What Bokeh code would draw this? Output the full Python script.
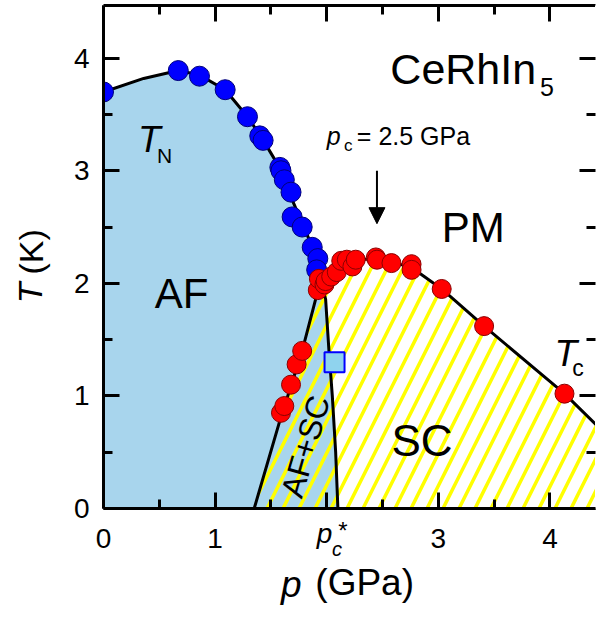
import math
from bokeh.plotting import figure
from bokeh.models import Range1d, LinearAxis, Label, Arrow, NormalHead, FixedTicker
from bokeh.embed import file_html
from bokeh.resources import INLINE

FONT = "Liberation Sans"

# ---- data ----
# Neel temperature T_N (blue circles)
tn_p = [0.00, 0.67, 0.86, 1.09, 1.29, 1.40, 1.43, 1.58, 1.59, 1.62, 1.68, 1.69, 1.78, 1.87, 1.92, 1.91]
tn_T = [3.70, 3.89, 3.84, 3.72, 3.48, 3.31, 3.27, 3.03, 3.00, 2.92, 2.81, 2.59, 2.50, 2.32, 2.22, 2.12]
# superconducting T_c (red circles)
tc_p = [1.59, 1.62, 1.68, 1.73, 1.78, 1.92, 1.93, 1.98, 1.99, 2.04, 2.09, 2.13, 2.18, 2.23, 2.26,
        2.44, 2.45, 2.58, 2.76, 2.76, 3.03, 3.41, 4.13]
tc_T = [0.85, 0.91, 1.10, 1.28, 1.40, 1.94, 2.04, 1.99, 2.02, 2.06, 2.10, 2.20, 2.21, 2.15, 2.21,
        2.23, 2.21, 2.18, 2.17, 2.12, 1.95, 1.62, 1.02]
# p_c* marker (square)
sq_p = [2.07]
sq_T = [1.30]

# phase boundary lines
tn_line_p = [0.00, 0.36, 0.67, 0.86, 1.09, 1.29, 1.42, 1.60, 1.70, 1.80, 1.88, 1.93, 1.95]
tn_line_T = [3.70, 3.82, 3.89, 3.85, 3.72, 3.48, 3.29, 2.99, 2.72, 2.49, 2.30, 2.12, 2.00]
af_sc_p = [1.35, 1.58, 1.78, 1.93]
af_sc_T = [0.00, 0.78, 1.40, 1.97]
pstar_line_p = [1.95, 1.99, 2.02, 2.05, 2.08, 2.10]
pstar_line_T = [2.00, 1.86, 1.40, 1.00, 0.50, 0.00]
tc_line_p = [1.93, 1.99, 2.04, 2.10, 2.20, 2.30, 2.42, 2.55, 2.76, 3.03, 3.41, 4.13, 4.49]
tc_line_T = [1.97, 2.03, 2.07, 2.12, 2.18, 2.21, 2.22, 2.20, 2.14, 1.95, 1.62, 1.02, 0.67]

x_ticks = [0, 1, 2, 3, 4]
x_minor = [0.5, 1.5, 2.5, 3.5, 4.5]
y_ticks = [0, 1, 2, 3, 4]
y_minor = [0.5, 1.5, 2.5, 3.5, 4.5]
pstar_tick = 2

X_END = 4.408
Y_END = 4.468

p = figure(width=599, height=610, x_range=Range1d(0, X_END), y_range=Range1d(0, Y_END),
           output_backend="svg", toolbar_location=None,
           min_border_left=103, min_border_right=0, min_border_top=0, min_border_bottom=102,
           x_axis_location=None, y_axis_location=None)
p.xgrid.visible = False
p.ygrid.visible = False
p.outline_line_color = None
p.background_fill_color = "white"
p.border_fill_color = "white"

def style_axis(ax):
    ax.axis_line_width = 3
    ax.axis_line_color = "black"
    ax.major_tick_in = 16
    ax.major_tick_out = 0
    ax.minor_tick_in = 9
    ax.minor_tick_out = 0
    ax.major_tick_line_width = 3
    ax.minor_tick_line_width = 3
    ax.major_label_text_font = FONT
    ax.major_label_text_color = "black"
    ax.major_label_text_font_size = "28px"
    ax.major_label_standoff = 14

# main axes
xb = LinearAxis(ticker=FixedTicker(ticks=x_ticks, minor_ticks=x_minor),
                major_label_overrides={pstar_tick: " "})
style_axis(xb)
p.add_layout(xb, "below")
yl = LinearAxis(ticker=FixedTicker(ticks=y_ticks, minor_ticks=y_minor))
style_axis(yl)
p.add_layout(yl, "left")

# mirror axes on top and right: inward ticks, blank labels
def mirror_axis(where, majors, minors, line_color):
    ax = LinearAxis(ticker=FixedTicker(ticks=majors, minor_ticks=minors),
                    major_label_overrides={v: " " for v in majors})
    style_axis(ax)
    ax.major_label_text_font_size = "1px"
    ax.major_label_standoff = 1
    ax.axis_line_color = line_color
    if line_color != "black":
        ax.axis_line_width = 1
    p.add_layout(ax, where)

mirror_axis("above", x_ticks, x_minor, "black")
mirror_axis("right", y_ticks, y_minor, "white")

# label-only axes: one tick each, carrying a styled piece of text
def text_axis(where, pos, text, size, style, standoff, vertical=False):
    ax = LinearAxis(ticker=FixedTicker(ticks=[pos]), major_label_overrides={pos: text},
                    major_label_text_font=FONT, major_label_text_font_size=f"{size}px",
                    major_label_text_font_style=style, major_label_text_color="black",
                    major_label_standoff=standoff,
                    axis_line_color=None, major_tick_line_color=None, minor_tick_line_color=None,
                    major_tick_in=0, major_tick_out=0, minor_tick_in=0, minor_tick_out=0)
    if vertical:
        ax.major_label_orientation = "vertical"
    p.add_layout(ax, where)

# p_c* tick label and x title "p (GPa)"
text_axis("below", 1.98, "p", 28, "italic", -39)
text_axis("below", 2.146, "*", 24, "normal", -40)
text_axis("below", 1.683, "p", 37, "italic", 7)
text_axis("below", 2.34, "(GPa)", 37, "normal", -46)
text_axis("below", 2.093, "c", 20, "italic", -70)
# y title "T (K)"
text_axis("left", 1.916, "T", 34, "italic", 21, vertical=True)
text_axis("left", 2.279, "(K)", 34, "normal", -42, vertical=True)

# regions
blue_x = [0] + tn_line_p + pstar_line_p
blue_y = [0] + tn_line_T + pstar_line_T
p.patch(blue_x, blue_y, fill_color="#a8d5ed", line_color=None)

sc_x = af_sc_p + tc_line_p + [tc_line_p[-1]]
sc_y = af_sc_T + tc_line_T + [0]
p.patch(sc_x, sc_y, fill_color=None, line_color=None,
        hatch_pattern="/", hatch_color="#ffff00", hatch_weight=3.5, hatch_scale=32)

for xs, ys in [(tn_line_p, tn_line_T), (af_sc_p, af_sc_T), (pstar_line_p, pstar_line_T), (tc_line_p, tc_line_T)]:
    p.line(xs, ys, line_color="black", line_width=3)

p.scatter(tn_p, tn_T, size=20, fill_color="#0000ff", line_color="#00007a", line_width=1)
p.scatter(tc_p, tc_T, size=19, fill_color="#ff0000", line_color="#8b0000", line_width=1)
p.scatter(sq_p, sq_T, marker="square", size=20, fill_color="#8fd3ee", line_color="#0000ff", line_width=2)

def lab(x, y, text, size, style="normal", angle=0, align="left", baseline="alphabetic"):
    p.add_layout(Label(x=x, y=y, text=text, text_font=FONT, text_font_size=f"{size}px",
                       text_font_style=style, text_color="black", angle=angle,
                       text_align=align, text_baseline=baseline))

lab(2.57, 3.90, "CeRhIn", 43)
lab(3.91, 3.74, "5", 25)
lab(2.00, 3.31, "p", 25, "italic")
lab(2.155, 3.22, "c", 17)
lab(2.27, 3.31, "= 2.5 GPa", 25)
lab(3.03, 2.50, "PM", 42)
lab(0.46, 1.91, "AF", 42)
lab(2.58, 0.60, "SC", 44)
lab(0.31, 3.28, "T", 37, "italic")
lab(0.48, 3.14, "N", 21)
lab(4.04, 1.38, "T", 37, "italic")
lab(4.20, 1.25, "c", 23)
lab(1.81, 0.55, "AF+SC", 32, angle=math.radians(74), align="center", baseline="middle")

p.add_layout(Arrow(end=NormalHead(size=16, fill_color="black", line_color="black"),
                   x_start=2.45, y_start=3.00, x_end=2.45, y_end=2.53,
                   line_color="black", line_width=2))

open("out.html", "w").write(file_html(p, INLINE))
